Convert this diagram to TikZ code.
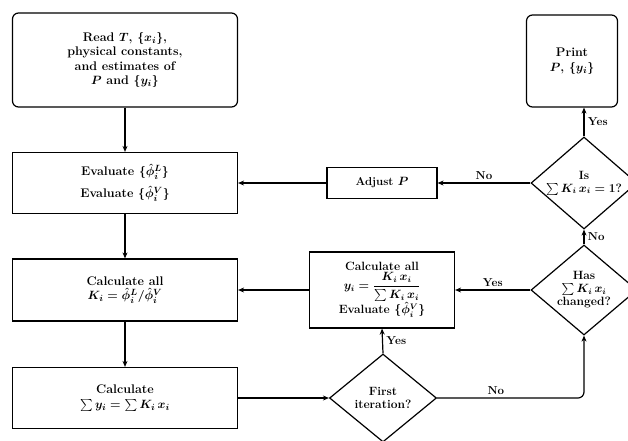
\documentclass[tikz,border=0pt]{standalone}
\usetikzlibrary{arrows.meta, shapes.geometric}
\usepackage{amsmath}

\begin{document}
\begin{tikzpicture}[x=1pt, y=-1pt,
  box/.style={draw, line width=1.2pt, minimum width=225pt, align=center,
    font=\bfseries\boldmath\fontsize{12.5}{14.5}\selectfont},
  endbox/.style={box, rounded corners=6pt},
  decision/.style={draw, line width=1.2pt, diamond, inner sep=0pt},
  dtext/.style={align=center, font=\bfseries\boldmath\fontsize{12}{13}\selectfont},
  arrow/.style={-{Stealth[length=6pt, width=5pt]}, line width=1.2pt},
  lbl/.style={font=\bfseries\fontsize{11.5}{13}\selectfont}
]
  \useasboundingbox (0,0) rectangle (628,440);
  \node[endbox, minimum height=94pt] (read) at (125,60)
    {Read $T$, $\{x_i\}$,\\ physical constants,\\ and estimates of\\ $P$ and $\{y_i\}$};
  \node[box, minimum height=61pt] (evalphi) at (125,183)
    {Evaluate $\{\hat{\phi}_i^L\}$\\[6pt] Evaluate $\{\hat{\phi}_i^V\}$};
  \node[box, minimum height=62pt] (calck) at (125,290)
    {Calculate all\\ $K_i = \hat{\phi}_i^L/\hat{\phi}_i^V$};
  \node[box, minimum height=61pt] (calcsum) at (125,398)
    {Calculate\\ $\sum y_i = \sum K_i\,x_i$};
  \node[box, minimum width=110pt, minimum height=31pt,
    font=\bfseries\boldmath\fontsize{11.5}{13}\selectfont] (adjust) at (382,183)
    {Adjust $P$};
  \node[box, minimum width=145pt, minimum height=76pt, inner sep=1pt,
    font=\bfseries\boldmath\fontsize{12}{12.5}\selectfont] (calcy) at (382,290)
    {Calculate all\\ $y_i = \dfrac{K_i\,x_i}{\sum K_i\,x_i}$\\ Evaluate $\{\hat{\phi}_i^V\}$};
  \node[decision, minimum width=107pt, minimum height=88pt,
    label={[dtext]center:First\\ iteration?}] (first) at (383,398) {};
  \node[decision, minimum width=106pt, minimum height=90pt,
    label={[dtext]center:Has\\ $\sum K_i\,x_i$\\ changed?}] (has) at (584,290) {};
  \node[decision, minimum width=106pt, minimum height=92pt,
    label={[dtext]center:Is\\ $\sum K_i\,x_i = 1$?}] (is) at (584,183) {};
  \node[endbox, minimum width=91pt, minimum height=92pt] (print) at (572,61)
    {Print\\ $P$, $\{y_i\}$};

  \draw[arrow] (read.south) -- (evalphi.north);
  \draw[arrow] (evalphi.south) -- (calck.north);
  \draw[arrow] (calck.south) -- (calcsum.north);
  \draw[arrow] (calcsum.east) -- (first.west);
  \draw[arrow] (first.north) -- node[lbl, right] {Yes} (calcy.south);
  \draw[arrow] (calcy.west) -- (calck.east);
  \draw[arrow, rounded corners=6pt] (first.east) -- node[lbl, above, pos=0.4] {No}
    (first.east -| has.south) -- (has.south);
  \draw[arrow] (has.west) -- node[lbl, above] {Yes} (calcy.east);
  \draw[arrow] (has.north) -- node[lbl, right] {No} (is.south);
  \draw[arrow] (is.west) -- node[lbl, above] {No} (adjust.east);
  \draw[arrow] (adjust.west) -- (evalphi.east);
  \draw[arrow] (is.north) -- node[lbl, right] {Yes} (is.north |- print.south);
\end{tikzpicture}
\end{document}
